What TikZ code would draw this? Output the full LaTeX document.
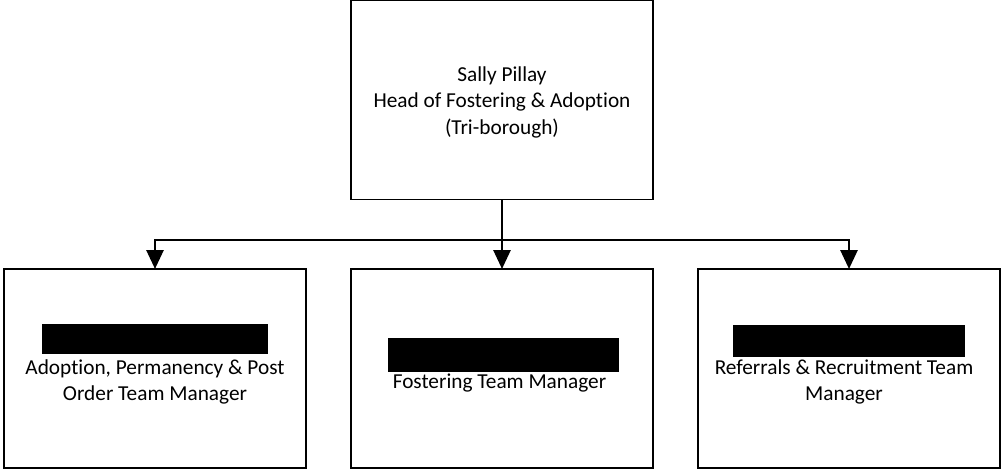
\documentclass[tikz,border=0pt]{standalone}
\usepackage{fontspec}
\setmainfont{Carlito}[Ligatures=NoCommon]
\usetikzlibrary{arrows.meta}
\begin{document}
\begin{tikzpicture}[x=1pt,y=-1pt,
  box/.style={draw=black,line width=1.2pt,fill=white,minimum width=302pt,minimum height=199pt,inner sep=0pt,outer sep=0pt},
  lbl/.style={align=center,font=\fontsize{21.3}{26.5}\selectfont,inner sep=0pt},
  redact/.style={fill=black,draw=none},
  conn/.style={line width=2.8pt,-{Triangle[width=17pt,length=19pt]}}]
\useasboundingbox (0,0) rectangle (1001,469);
\node[box] (top) at (502,100) {};
\node[box] (left) at (155,368.5) {};
\node[box] (mid) at (502,368.5) {};
\node[box] (right) at (849,368.5) {};
\node[lbl] (toptext) at (502,102) {Sally Pillay\\Head of Fostering \& Adoption\\(Tri-borough)};
\node[lbl] (lefttext) at (155,382) {Adoption, Permanency \& Post\\Order Team Manager};
\node[lbl] (midtext) at (499.5,383) {Fostering Team Manager};
\node[lbl] (righttext) at (844,382) {Referrals \& Recruitment Team\\Manager};
\fill[redact] (42,324) rectangle (268,354);
\fill[redact] (388,338) rectangle (619,372);
\fill[redact] (733,325) rectangle (965,357);
\coordinate (bus) at (502,240);
\draw[conn] (top.south) -- (mid.north);
\draw[conn] (bus) -| (left.north);
\draw[conn] (bus) -| (right.north);
\end{tikzpicture}
\end{document}
